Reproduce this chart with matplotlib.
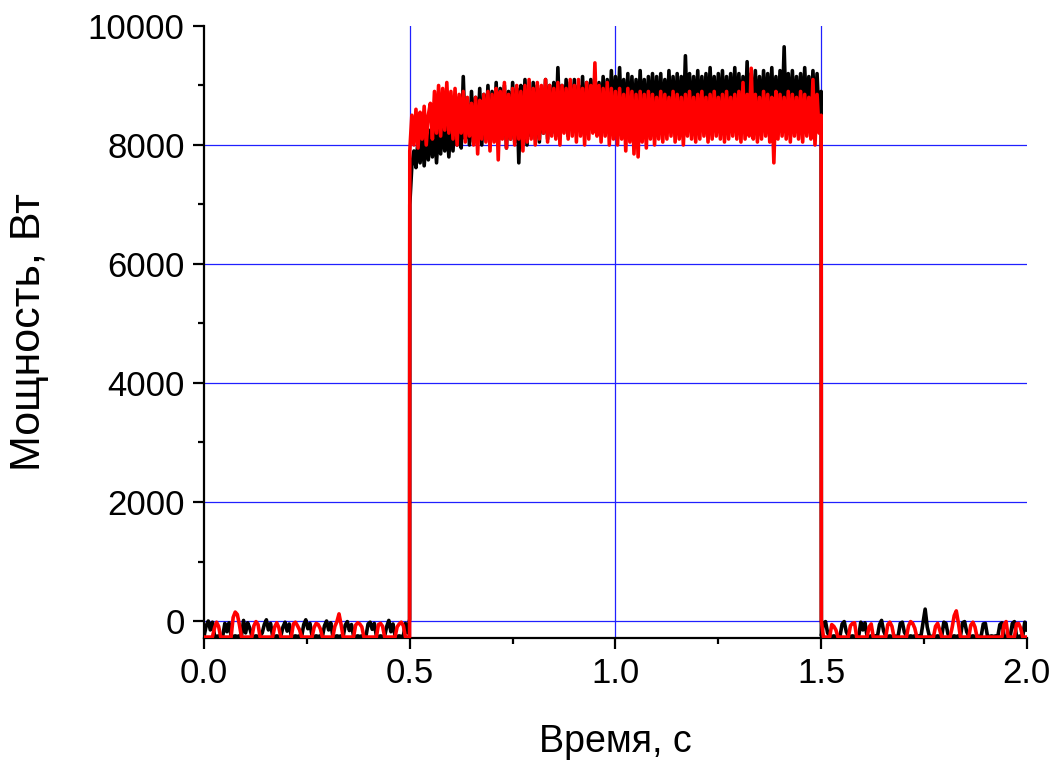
import numpy as np
import matplotlib
matplotlib.use("Agg")
import matplotlib.pyplot as plt
from matplotlib.ticker import MultipleLocator, FormatStrFormatter

plt.rcParams['font.family'] = ['Liberation Sans', 'DejaVu Sans']

# baseline before the pulse (0 .. 0.5 s), W
black_pre = [-250, -80, 0, -150, -20, -240, -260, -250, -260, -250,
             -40, -180, -30, -250, -260, -250, -260, -250, -250, 10,
             -200, -30, -120, -250, -260, -250, -260, -250, -200, -60,
             20, -150, -40, -250, -260, -250, -260, -250, -100, -20,
             -170, -50, -250, -260, -250, -260, -250, -260, -60, 20,
             -130, -40, -250, -260, -250, -260, -250, -260, -80, 0,
             -150, -30, -250, -260, -250, -260, -250, -260, -70, -10,
             -160, -60, -250, -260, -250, -260, -250, -260, -250, -50,
             -20, -140, -40, -250, -260, -250, -260, -250, -90, 10,
             -180, -50, -250, -260, -250, -260, -250, -40, -200, 30]
red_pre = [-270, -270, -270, -270, -270, -120, -20, -90, -270, -270,
           -270, -270, -270, -270, 60, 150, 110, -60, -270, -270,
           -270, -270, -270, -270, -80, -10, -60, -270, -270, -270,
           -270, -270, -270, -270, -100, -30, -110, -270, -270, -270,
           -270, -270, -270, -50, -20, -80, -150, -270, -270, -270,
           -270, -270, -270, -110, -40, -60, -130, -270, -270, -270,
           -270, -270, -270, -90, -10, 120, -60, -270, -270, -270,
           -270, -270, -270, -70, -30, -50, -100, -270, -270, -270,
           -270, -270, -270, -270, -60, -40, -90, -270, -270, -270,
           -270, -270, -270, -100, -50, -20, -80, -270, -270, -270]

# pulse (0.5 .. 1.5 s), W
black_pulse = [7000, 7650, 7900, 7620, 8100, 7700, 8150, 7650, 8200, 7750,
               8250, 7800, 8300, 7700, 8350, 7850, 8400, 7900, 8300, 7800,
               8450, 7900, 8500, 8000, 8800, 7950, 9150, 8100, 8700, 8000,
               8900, 8050, 8800, 8100, 8950, 8000, 8850, 8150, 9000, 8050,
               8900, 8100, 9050, 8000, 8950, 8150, 9000, 7950, 8900, 8100,
               9050, 8050, 8950, 7700, 9000, 8100, 9100, 8000, 8950, 8150,
               9050, 8100, 9000, 8050, 8950, 8200, 9100, 8100, 9000, 8200,
               9050, 8150, 9300, 8200, 9000, 8250, 9100, 8150, 9050, 8300,
               9100, 8250, 9000, 8300, 9150, 8200, 9050, 8350, 9100, 8250,
               9200, 8300, 9050, 8350, 9150, 8250, 9100, 8300, 9250, 8300,
               9150, 8300, 9300, 8350, 9100, 8300, 9200, 8250, 9150, 8350,
               9100, 8300, 9250, 8350, 9100, 8300, 9150, 8400, 9200, 8350,
               9150, 8300, 9200, 8350, 9100, 8400, 9250, 8300, 9150, 8350,
               9200, 8400, 9150, 8350, 9500, 8400, 9200, 8350, 9150, 8400,
               9250, 8350, 9150, 8400, 9200, 8350, 9300, 8400, 9150, 8350,
               9200, 8400, 9250, 8350, 9150, 8450, 9200, 8350, 9300, 8400,
               9200, 8400, 9150, 8350, 9400, 8450, 9200, 8400, 9250, 8350,
               9150, 8400, 9250, 8450, 9200, 8400, 9300, 8350, 9150, 8400,
               9250, 8450, 9650, 8400, 9200, 8450, 9250, 8400, 9150, 8450,
               9200, 8400, 9300, 8450, 9150, 8400, 9250, 8450, 9200, 8400,
               8900]
red_pulse = [7900, 8500, 8000, 8600, 7950, 8550, 8100, 8650, 8000, 8500,
             8700, 8100, 8900, 8200, 9000, 8150, 8950, 8250, 9050, 8200,
             8900, 8100, 8950, 8000, 8850, 8200, 8900, 8050, 8800, 8150,
             8700, 8000, 8800, 7850, 8750, 8100, 8850, 8050, 8900, 7900,
             8850, 8050, 8950, 7750, 8900, 8100, 9050, 7950, 8850, 8100,
             8950, 8000, 9000, 8100, 8900, 7900, 9000, 8050, 9100, 8100,
             8950, 8000, 9050, 8100, 9000, 8200, 9100, 8050, 9000, 8150,
             8950, 8100, 9050, 8000, 9000, 8200, 8950, 8100, 9100, 8150,
             9000, 8050, 9100, 8150, 8950, 8000, 9050, 8100, 9000, 8200,
             9380, 8150, 9000, 8050, 8950, 8150, 9050, 8000, 8950, 8100,
             8900, 8000, 8950, 8100, 8850, 7900, 8950, 8050, 8900, 7850,
             8850, 7800, 8900, 8050, 8850, 7950, 8900, 8100, 8850, 8000,
             8800, 8100, 8900, 8050, 8850, 8100, 8800, 8150, 8900, 8050,
             8850, 8100, 8800, 8000, 8850, 8150, 8900, 8100, 8800, 8050,
             8850, 8100, 8900, 8150, 8800, 8050, 8850, 8100, 8900, 8150,
             8800, 8100, 8850, 8050, 8900, 8100, 8800, 8150, 8850, 8100,
             8900, 8050, 9050, 8100, 8850, 8150, 9290, 8100, 8850, 8050,
             8800, 8100, 8900, 8150, 8850, 8050, 8800, 7700, 8900, 8100,
             8850, 8150, 8800, 8100, 8900, 8050, 8850, 8150, 8800, 8100,
             8900, 8050, 8850, 8150, 8800, 8100, 9100, 8000, 8850, 8200,
             8500]

# baseline after the pulse (1.5 .. 2.0 s), W
black_post = [-250, -40, -10, -200, -250, -260, -250, -260, -250, -250,
              -50, -10, -180, -250, -260, -250, -260, -250, -250, -20,
              -150, -30, -250, -260, -250, -260, -250, -260, -60, 10,
              -170, -250, -260, -250, -260, -250, -260, -250, -40, -20,
              -190, -250, -260, -250, -260, -250, -260, -250, -250, -30,
              200, -100, -250, -260, -250, -260, -250, -260, -250, -20,
              -40, -220, -250, -260, -250, -260, -250, -260, -30, -10,
              -180, -250, -260, -250, -260, -250, -260, -250, -50, -40,
              -250, -260, -250, -260, -250, -260, -60, -30, -250, -260,
              -250, -260, -40, -10, -250, -260, -250, -260, -20, -150]
red_post = [0, -270, -270, -270, -270, -60, -90, -150, -270, -270,
            -270, -270, -270, -270, -80, -40, -30, -270, -270, -270,
            -270, -270, -270, -100, -50, -270, -270, -270, -270, -270,
            -270, -270, -60, -20, -90, -270, -270, -270, -270, -270,
            -270, -270, -80, -10, -40, -120, -270, -270, -270, -270,
            -270, -270, -270, -270, -270, -90, -40, -150, -270, -270,
            -270, -270, -270, -110, 90, 170, -30, -270, -270, -270,
            -270, -270, -70, -20, -100, -270, -270, -270, -270, -270,
            -270, -270, -270, -270, -270, -270, -270, -270, -60, -10,
            -270, -270, -270, -270, -50, -40, -120, -270, -270, -270]

t_pre = np.linspace(0.0, 0.4995, len(black_pre))
t_pulse = np.linspace(0.5, 1.5, len(black_pulse))
t_post = np.linspace(1.5005, 2.0, len(black_post))

t = np.concatenate([t_pre, t_pulse, t_post])
black = np.concatenate([black_pre, black_pulse, black_post])
red = np.concatenate([red_pre, red_pulse, red_post])

fig = plt.figure(figsize=(10.63, 7.6), dpi=100)
ax = fig.add_axes([0.192, 0.1605, 0.774, 0.8053])

ax.plot(t, black, color='black', lw=2.6, zorder=3)
ax.plot(t, red, color='red', lw=2.6, zorder=4)

ax.set_xlim(0, 2)
ax.set_ylim(-286, 10000)

ax.xaxis.set_major_locator(MultipleLocator(0.5))
ax.xaxis.set_minor_locator(MultipleLocator(0.25))
ax.xaxis.set_major_formatter(FormatStrFormatter('%.1f'))
ax.yaxis.set_major_locator(MultipleLocator(2000))
ax.yaxis.set_minor_locator(MultipleLocator(1000))

# blue grid lines, only inside the box
for gx in [0.5, 1.0, 1.5]:
    ax.axvline(gx, color='#2020ff', lw=0.9, zorder=1)
for gy in [0, 2000, 4000, 6000, 8000]:
    ax.axhline(gy, color='#2020ff', lw=0.9, zorder=1)

ax.spines['top'].set_visible(False)
ax.spines['right'].set_visible(False)
ax.spines['left'].set_linewidth(1.6)
ax.spines['bottom'].set_linewidth(1.6)
ax.tick_params(which='major', direction='out', length=8, width=1.6, labelsize=25, pad=6)
ax.tick_params(which='minor', direction='out', length=4.5, width=1.6)

ax.set_xlabel('Время, с', fontsize=27, labelpad=24)
ax.set_ylabel('Мощность, Вт', fontsize=31, labelpad=28)

fig.savefig('out.png', dpi=100)
